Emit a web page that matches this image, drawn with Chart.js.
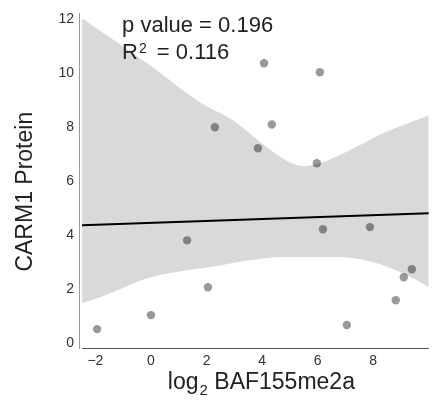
<!DOCTYPE html>
<html>
<head>
<meta charset="utf-8">
<script src="https://cdn.jsdelivr.net/npm/chart.js@4/dist/chart.umd.min.js"></script>
<style>
  html, body { margin: 0; padding: 0; background: #fff; }
  #wrap { width: 433px; height: 405px; }
</style>
</head>
<body>
<div id="wrap"><canvas id="scatterChart" width="433" height="405"></canvas></div>
<script>
// ---- data ----
const ptX = [-1.94, 0.0, 1.3, 2.05, 2.3, 3.85, 4.07, 4.35, 5.97, 6.08, 6.19, 7.05, 7.88, 8.81, 9.1, 9.39];
const ptY = [0.52, 1.04, 3.81, 2.07, 8.0, 7.22, 10.37, 8.1, 6.67, 10.04, 4.22, 0.67, 4.3, 1.59, 2.44, 2.74];

const fitX = [-2.48, 10.0];
const fitY = [4.37, 4.81];

const upperX = [-2.48, -0.04, 1.76, 2.95, 4.17, 5.0, 5.47, 6.08, 7.16, 8.35, 10.0];
const upperY = [12.04, 10.3, 8.93, 8.26, 7.26, 6.7, 6.56, 6.67, 7.15, 7.78, 8.44];
const lowerX = [-2.48, -1.83, 0.0, 1.29, 2.48, 3.6, 4.75, 6.8, 8.35, 9.42, 10.0];
const lowerY = [1.48, 1.7, 2.44, 2.7, 2.88, 3.08, 3.19, 3.19, 2.89, 2.41, 2.07];

const xTicks = [-2, 0, 2, 4, 6, 8];
const yTicks = [0, 2, 4, 6, 8, 10, 12];

const pValue = "0.196";
const rSquared = "0.116";

const FONT = "'Liberation Sans', Arial, Helvetica, sans-serif";

function pairs(xs, ys) {
    return xs.map((x, i) => ({ x: x, y: ys[i] }));
}

// titles and the stats text, drawn by hand for the sub/superscripts
const textPlugin = {
    id: 'textPlugin',
    afterDraw(chart) {
        const c = chart.ctx;
        const xs = chart.scales.x;
        const ys = chart.scales.y;
        const area = chart.chartArea;

        c.save();
        // x axis line starts where the data range starts
        c.strokeStyle = '#555';
        c.lineWidth = 1;
        c.beginPath();
        c.moveTo(xs.getPixelForValue(-2.48), area.bottom + 0.5);
        c.lineTo(area.right, area.bottom + 0.5);
        c.stroke();

        c.fillStyle = '#222';
        c.textBaseline = 'alphabetic';
        c.textAlign = 'left';

        // stats text
        const tx = xs.getPixelForValue(-1.04);
        c.font = '22px ' + FONT;
        c.fillText('p value = ' + pValue, tx, ys.getPixelForValue(11.52));
        const rb = ys.getPixelForValue(10.52);
        c.fillText('R', tx, rb);
        let w = c.measureText('R').width;
        c.font = '14px ' + FONT;
        c.fillText('2', tx + w + 1, rb - 6);
        w += c.measureText('2').width + 1;
        c.font = '22px ' + FONT;
        c.fillText(' = ' + rSquared, tx + w + 4, rb);

        // x title: log2 BAF155me2a
        c.font = '23px ' + FONT;
        const a = 'log', b = ' BAF155me2a';
        const wa = c.measureText(a).width;
        const wb = c.measureText(b).width;
        c.font = '15px ' + FONT;
        const ws = c.measureText('2').width;
        const total = wa + ws + wb;
        const x0 = (area.left + area.right) / 2 + 7 - total / 2;
        const base = area.bottom + 41;
        c.font = '23px ' + FONT;
        c.fillText(a, x0, base);
        c.font = '15px ' + FONT;
        c.fillText('2', x0 + wa + 1, base + 6);
        c.font = '23px ' + FONT;
        c.fillText(b, x0 + wa + ws + 1, base);

        // y title
        c.translate(26, (area.top + area.bottom) / 2 + 11);
        c.rotate(-Math.PI / 2);
        c.textAlign = 'center';
        c.textBaseline = 'middle';
        c.font = '23px ' + FONT;
        c.fillText('CARM1 Protein', 0, 0);
        c.restore();
    }
};

new Chart(document.getElementById('scatterChart'), {
    type: 'scatter',
    data: {
        datasets: [
            {
                label: 'samples',
                data: pairs(ptX, ptY),
                backgroundColor: 'rgba(0,0,0,0.4)',
                borderWidth: 0,
                pointRadius: 4.2
            },
            {
                type: 'line',
                label: 'fit',
                data: pairs(fitX, fitY),
                borderColor: '#000',
                borderWidth: 2,
                pointRadius: 0,
                fill: false
            },
            {
                type: 'line',
                label: 'upper',
                data: pairs(upperX, upperY),
                borderWidth: 0,
                borderColor: 'rgba(0,0,0,0)',
                backgroundColor: '#d9d9d9',
                pointRadius: 0,
                cubicInterpolationMode: 'monotone',
                fill: '+1'
            },
            {
                type: 'line',
                label: 'lower',
                data: pairs(lowerX, lowerY),
                borderWidth: 0,
                borderColor: 'rgba(0,0,0,0)',
                pointRadius: 0,
                cubicInterpolationMode: 'monotone',
                fill: false
            }
        ]
    },
    options: {
        responsive: false,
        animation: false,
        layout: { padding: { top: 13, right: 4, left: 0, bottom: 0 } },
        plugins: {
            legend: { display: false },
            tooltip: { enabled: false }
        },
        scales: {
            x: {
                type: 'linear',
                min: -2.59,
                max: 10.0,
                grid: { display: false, drawTicks: false },
                border: { display: false },
                afterBuildTicks: s => { s.ticks = xTicks.map(v => ({ value: v })); },
                afterFit: s => { s.height = 57; },
                ticks: {
                    padding: 5,
                    color: '#333',
                    font: { family: FONT, size: 14 },
                    callback: v => (v < 0 ? '\u2212' + Math.abs(v) : String(v))
                }
            },
            y: {
                type: 'linear',
                min: -0.18,
                max: 12.22,
                grid: { display: false, drawTicks: false },
                border: { display: true, color: '#999', width: 1 },
                afterBuildTicks: s => { s.ticks = yTicks.map(v => ({ value: v })); },
                afterFit: s => { s.width = 79; },
                ticks: {
                    padding: 5,
                    color: '#333',
                    font: { family: FONT, size: 14 }
                }
            }
        }
    },
    plugins: [textPlugin]
});
</script>
</body>
</html>
